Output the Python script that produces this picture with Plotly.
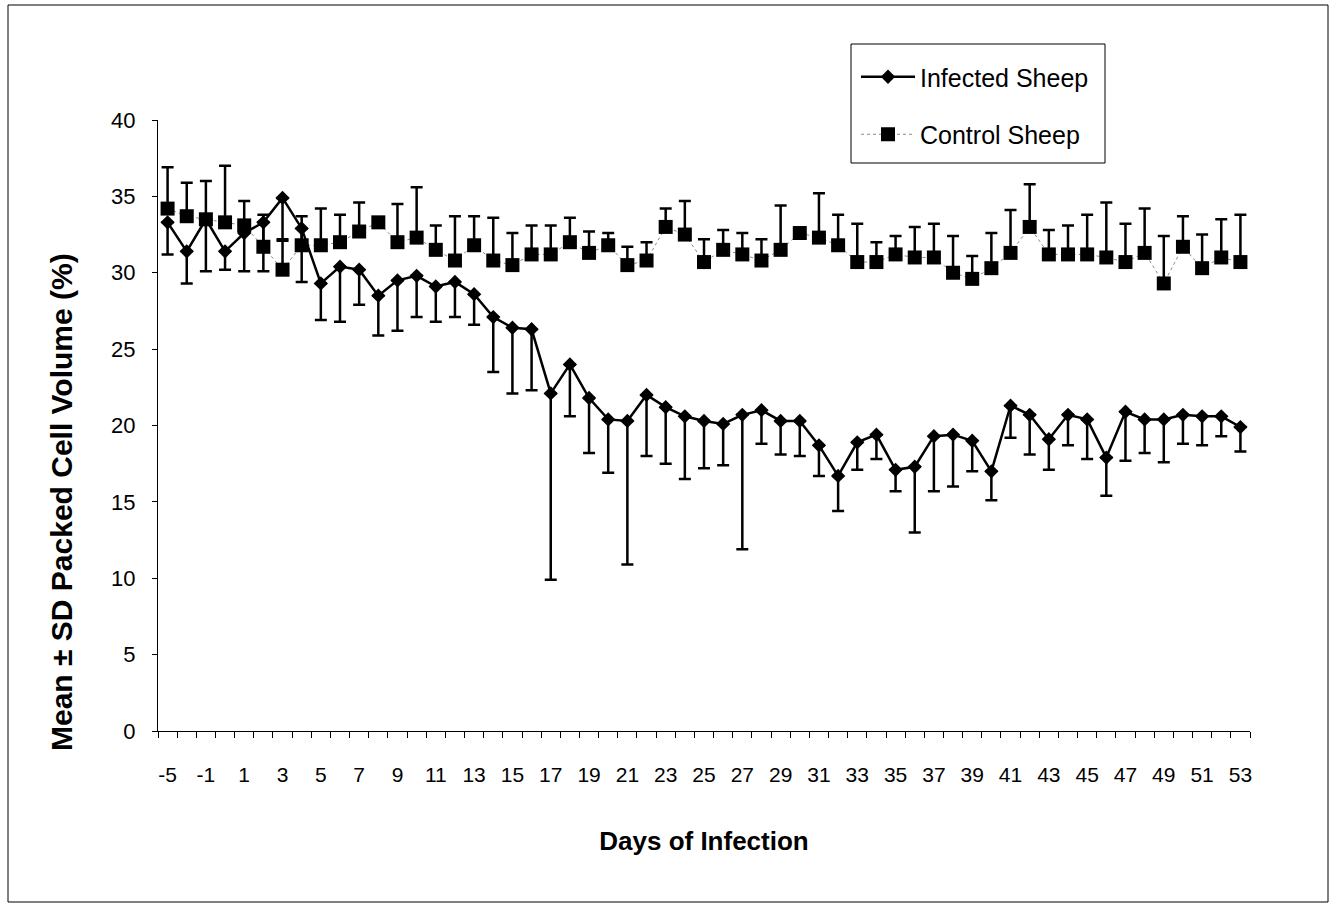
import plotly.graph_objects as go

# Sampling days (days relative to infection)
days = [-5, -3, -1] + [
    0, 1, 2, 3, 4, 5, 6, 7, 8, 9, 10, 11, 12, 13, 14, 15, 16, 17, 18, 19,
    20, 21, 22, 23, 24, 25, 26, 27, 28, 29, 30, 31, 32, 33, 34, 35, 36, 37,
    38, 39, 40, 41, 42, 43, 44, 45, 46, 47, 48, 49, 50, 51, 52, 53,
]

# Mean packed cell volume (%) and standard deviation, infected group
infected_mean = [
    33.3, 31.4, 33.5, 31.4, 32.6, 33.3, 34.9, 32.9, 29.3, 30.4, 30.2, 28.5,
    29.5, 29.8, 29.1, 29.4, 28.6, 27.1, 26.4, 26.3, 22.1, 24.0, 21.8, 20.4,
    20.3, 22.0, 21.2, 20.6, 20.3, 20.1, 20.7, 21.0, 20.3, 20.3, 18.7, 16.7,
    18.9, 19.4, 17.1, 17.3, 19.3, 19.4, 19.0, 17.0, 21.3, 20.7, 19.1, 20.7,
    20.4, 17.9, 20.9, 20.4, 20.4, 20.7, 20.6, 20.6, 19.9,
]
infected_sd = [
    2.1, 2.1, 3.4, 1.2, 2.5, 3.2, 2.7, 3.5, 2.4, 3.6, 2.3, 2.6,
    3.3, 2.7, 2.3, 2.3, 2.0, 3.6, 4.3, 4.0, 12.2, 3.4, 3.6, 3.5,
    9.4, 4.0, 3.7, 4.1, 3.1, 2.7, 8.8, 2.2, 2.2, 2.3, 2.0, 2.3,
    1.8, 1.6, 1.4, 4.3, 3.6, 3.4, 2.0, 1.9, 2.1, 2.6, 2.0, 2.0,
    2.6, 2.5, 3.2, 2.2, 2.8, 1.9, 1.9, 1.3, 1.6,
]

# Mean packed cell volume (%) and standard deviation, control group
control_mean = [
    34.2, 33.7, 33.5, 33.3, 33.1, 31.7, 30.2, 31.8, 31.8, 32.0, 32.7, 33.3,
    32.0, 32.3, 31.5, 30.8, 31.8, 30.8, 30.5, 31.2, 31.2, 32.0, 31.3, 31.8,
    30.5, 30.8, 33.0, 32.5, 30.7, 31.5, 31.2, 30.8, 31.5, 32.6, 32.3, 31.8,
    30.7, 30.7, 31.2, 31.0, 31.0, 30.0, 29.6, 30.3, 31.3, 33.0, 31.2, 31.2,
    31.2, 31.0, 30.7, 31.3, 29.3, 31.7, 30.3, 31.0, 30.7,
]
control_sd = [
    2.7, 2.2, 2.5, 3.7, 1.6, 2.1, 1.9, 1.9, 2.4, 1.8, 1.9, 0.2,
    2.5, 3.3, 1.6, 2.9, 1.9, 2.8, 2.1, 1.9, 1.9, 1.6, 1.4, 0.8,
    1.2, 1.2, 1.2, 2.2, 1.5, 1.3, 1.4, 1.4, 2.9, 0.3, 2.9, 2.0,
    2.5, 1.3, 1.2, 2.0, 2.2, 2.4, 1.5, 2.3, 2.8, 2.8, 1.6, 1.9,
    2.6, 3.6, 2.5, 2.9, 3.1, 2.0, 2.2, 2.5, 3.1,
]

cats = [str(d) for d in days]
tick_text = [c if i % 2 == 0 else "" for i, c in enumerate(cats)]
zeros = [0] * len(cats)

FONT = "Liberation Sans, Arial, sans-serif"

fig = go.Figure()

fig.add_trace(go.Scatter(
    x=cats, y=control_mean, name="Control Sheep", mode="lines+markers",
    legendgroup="control", legendrank=2,
    line=dict(color="#8a8a8a", width=1, dash="dot"),
    marker=dict(symbol="square", size=14, color="black"),
    error_y=dict(type="data", symmetric=False, array=control_sd,
                 arrayminus=zeros, color="black", thickness=2.5, width=6),
))

fig.add_trace(go.Scatter(
    x=cats, y=infected_mean, name="Infected Sheep", mode="lines+markers",
    legendgroup="infected", legendrank=1,
    line=dict(color="black", width=2.5),
    marker=dict(symbol="diamond", size=11, color="black"),
    error_y=dict(type="data", symmetric=False, array=zeros,
                 arrayminus=infected_sd, color="black", thickness=2.5, width=6),
))

L, R, T, B = 158, 85, 120, 175
W, H = 1335, 906
pw, ph = W - L - R, H - T - B

def px_x(p):
    return (p - L) / pw

def px_y(p):
    return (H - B - p) / ph

fig.update_layout(
    width=W, height=H,
    margin=dict(l=L, r=R, t=T, b=B, autoexpand=False),
    paper_bgcolor="white", plot_bgcolor="white",
    font=dict(family=FONT, color="black", size=21),
    showlegend=True,
    legend=dict(
        x=px_x(856), y=px_y(54), xanchor="left", yanchor="top",
        bgcolor="rgba(0,0,0,0)", borderwidth=0,
        font=dict(size=25), traceorder="grouped", tracegroupgap=22,
        itemwidth=54,
    ),
    xaxis=dict(
        type="category", tickmode="array", tickvals=cats, ticktext=tick_text,
        range=[-0.5, len(cats) - 0.5], tickangle=0,
        tickson="boundaries", ticks="outside", ticklen=6, tickcolor="black",
        showline=True, linecolor="black", linewidth=1, showgrid=False,
        zeroline=False, ticklabelstandoff=25,
        tickfont=dict(size=21),
        title=dict(text="<b>Days of Infection</b>", font=dict(size=26),
                   standoff=46),
    ),
    yaxis=dict(
        range=[0, 40], dtick=5, ticks="outside", ticklen=5, tickcolor="black",
        showline=True, linecolor="black", linewidth=1, showgrid=False,
        zeroline=False, ticklabelstandoff=12,
        tickfont=dict(size=22),
    ),
    annotations=[dict(
        text="<b>Mean ± SD Packed Cell Volume (%)</b>",
        xref="paper", yref="paper", x=px_x(61), y=px_y(502),
        xanchor="center", yanchor="middle", textangle=-90,
        showarrow=False, font=dict(size=30),
    )],
    shapes=[
        # outer chart frame
        dict(type="rect", xref="paper", yref="paper",
             x0=px_x(8), x1=px_x(1328), y0=px_y(902), y1=px_y(5),
             line=dict(color="black", width=1), fillcolor="rgba(0,0,0,0)",
             layer="below"),
        # legend frame
        dict(type="rect", xref="paper", yref="paper",
             x0=px_x(851), x1=px_x(1105), y0=px_y(163), y1=px_y(44),
             line=dict(color="black", width=1), fillcolor="white",
             layer="below"),
    ],
)

fig.write_html("out.html")
